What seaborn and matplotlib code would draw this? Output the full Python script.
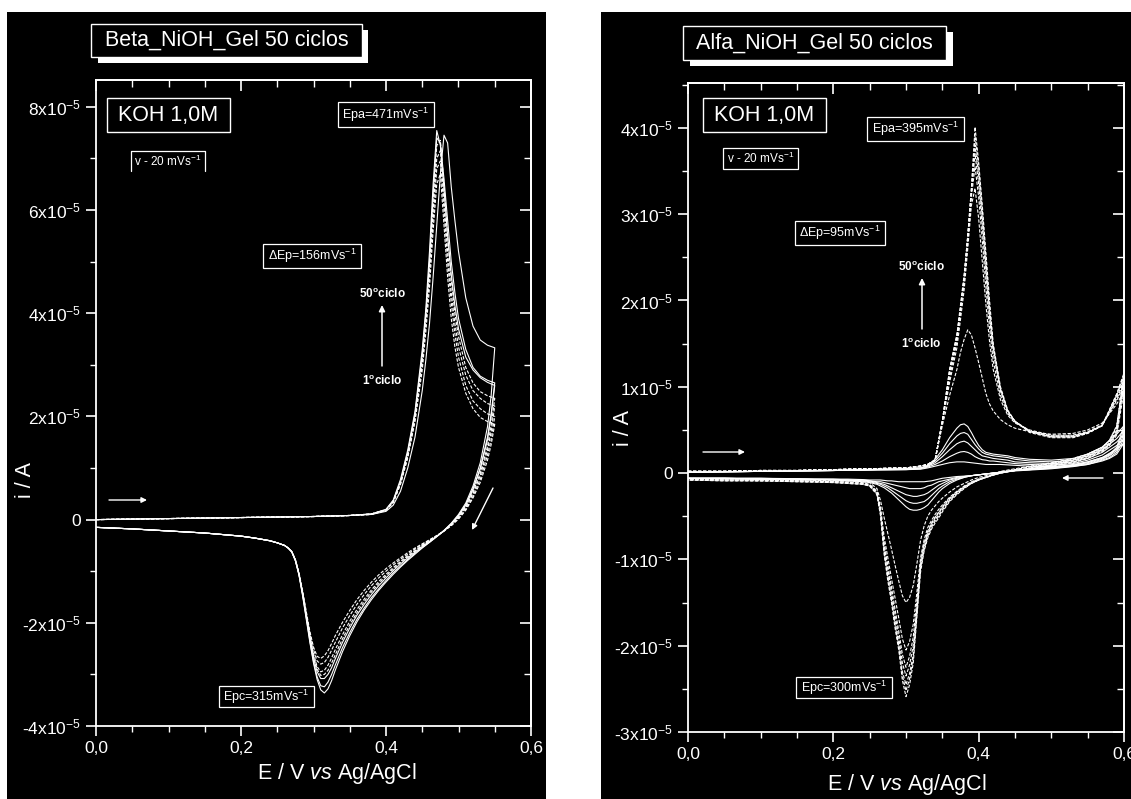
import numpy as np
import pandas as pd
import matplotlib
matplotlib.use("Agg")
import matplotlib.pyplot as plt
import seaborn as sns
from matplotlib.patches import Rectangle, FancyArrowPatch
from matplotlib.lines import Line2D
from matplotlib.ticker import FixedLocator, MultipleLocator, NullFormatter

# ---------------- LEFT PANEL (Beta_NiOH_Gel), current in 1e-5 A ----------------
LB_E_fwd = [0.000, 0.050, 0.100, 0.150, 0.200, 0.250, 0.300, 0.350, 0.380, 0.400,
            0.410, 0.420, 0.430, 0.440, 0.450, 0.455, 0.460, 0.465, 0.470, 0.475,
            0.480, 0.485, 0.490, 0.495, 0.500, 0.510, 0.520, 0.530, 0.540, 0.550]
LB_E_rev = [0.550, 0.545, 0.540, 0.530, 0.520, 0.510, 0.500, 0.490, 0.480, 0.470,
            0.460, 0.450, 0.440, 0.430, 0.420, 0.410, 0.400, 0.390, 0.380, 0.370,
            0.360, 0.350, 0.340, 0.330, 0.325, 0.320, 0.315, 0.310, 0.305, 0.300,
            0.295, 0.290, 0.285, 0.280, 0.275, 0.270, 0.265, 0.260, 0.250, 0.240,
            0.220, 0.200, 0.150, 0.100, 0.050, 0.000]

L1_fwd = [0.00, 0.01, 0.02, 0.03, 0.04, 0.05, 0.06, 0.08, 0.10, 0.16,
          0.28, 0.55, 1.00, 1.60, 2.50, 3.10, 3.80, 4.70, 5.70, 6.70,
          7.45, 7.30, 6.45, 5.80, 5.20, 4.30, 3.75, 3.48, 3.38, 3.33]
L2_fwd = [0.00, 0.01, 0.02, 0.03, 0.04, 0.05, 0.06, 0.08, 0.11, 0.20,
          0.38, 0.78, 1.35, 2.10, 3.30, 4.10, 5.20, 6.50, 7.54, 7.25,
          6.40, 5.50, 4.75, 4.15, 3.70, 3.15, 2.90, 2.75, 2.66, 2.60]
L3_fwd = [0.00, 0.01, 0.02, 0.03, 0.04, 0.05, 0.06, 0.08, 0.11, 0.19,
          0.36, 0.74, 1.30, 2.05, 3.20, 4.00, 5.00, 6.30, 7.40, 7.30,
          6.60, 5.80, 5.00, 4.40, 3.90, 3.30, 2.95, 2.78, 2.70, 2.65]
L4_fwd = [0.00, 0.01, 0.02, 0.03, 0.04, 0.05, 0.06, 0.08, 0.11, 0.19,
          0.35, 0.72, 1.25, 2.00, 3.10, 3.90, 4.85, 6.00, 7.00, 7.15,
          6.20, 5.20, 4.40, 3.80, 3.35, 2.80, 2.50, 2.35, 2.25, 2.20]
L5_fwd = [0.00, 0.01, 0.02, 0.03, 0.04, 0.05, 0.06, 0.08, 0.10, 0.18,
          0.34, 0.70, 1.22, 1.95, 3.00, 3.80, 4.70, 5.80, 6.80, 6.95,
          6.00, 5.00, 4.20, 3.60, 3.15, 2.60, 2.30, 2.15, 2.05, 2.00]
L6_fwd = [0.00, 0.01, 0.02, 0.03, 0.04, 0.05, 0.06, 0.08, 0.10, 0.18,
          0.33, 0.68, 1.20, 1.90, 2.90, 3.65, 4.50, 5.60, 6.50, 6.70,
          5.70, 4.70, 3.90, 3.35, 2.95, 2.45, 2.15, 1.98, 1.90, 1.85]
L7_fwd = [0.00, 0.01, 0.02, 0.03, 0.04, 0.05, 0.06, 0.08, 0.11, 0.19,
          0.36, 0.73, 1.28, 2.02, 3.15, 3.95, 4.95, 6.20, 7.25, 7.35,
          6.50, 5.50, 4.65, 4.00, 3.55, 2.95, 2.65, 2.48, 2.40, 2.35]

L1_rev = [3.33, 2.40, 1.80, 1.10, 0.65, 0.32, 0.10, -0.07, -0.21, -0.33,
          -0.44, -0.55, -0.67, -0.79, -0.92, -1.06, -1.21, -1.37, -1.55, -1.75,
          -1.98, -2.25, -2.56, -2.92, -3.12, -3.28, -3.36, -3.30, -3.10, -2.78,
          -2.38, -1.93, -1.48, -1.08, -0.80, -0.63, -0.55, -0.50, -0.45, -0.41,
          -0.36, -0.32, -0.26, -0.22, -0.18, -0.15]
L2_rev = [2.60, 2.00, 1.55, 0.98, 0.58, 0.28, 0.07, -0.09, -0.22, -0.33,
          -0.44, -0.54, -0.65, -0.77, -0.90, -1.03, -1.18, -1.34, -1.51, -1.71,
          -1.93, -2.19, -2.48, -2.82, -3.00, -3.15, -3.24, -3.22, -3.05, -2.75,
          -2.35, -1.90, -1.46, -1.07, -0.79, -0.62, -0.55, -0.50, -0.45, -0.41,
          -0.36, -0.32, -0.26, -0.22, -0.18, -0.15]
L3_rev = [2.65, 2.05, 1.60, 1.00, 0.60, 0.29, 0.08, -0.08, -0.21, -0.32,
          -0.42, -0.52, -0.63, -0.74, -0.86, -0.99, -1.13, -1.28, -1.45, -1.64,
          -1.85, -2.10, -2.38, -2.70, -2.87, -3.00, -3.08, -3.08, -2.95, -2.68,
          -2.30, -1.87, -1.44, -1.06, -0.79, -0.62, -0.55, -0.50, -0.45, -0.41,
          -0.36, -0.32, -0.26, -0.22, -0.18, -0.15]
L4_rev = [2.20, 1.70, 1.35, 0.85, 0.50, 0.23, 0.04, -0.10, -0.22, -0.32,
          -0.41, -0.50, -0.60, -0.70, -0.81, -0.93, -1.06, -1.20, -1.36, -1.54,
          -1.74, -1.97, -2.23, -2.52, -2.68, -2.82, -2.92, -2.95, -2.85, -2.60,
          -2.25, -1.84, -1.42, -1.05, -0.78, -0.62, -0.55, -0.50, -0.45, -0.41,
          -0.36, -0.32, -0.26, -0.22, -0.18, -0.15]
L5_rev = [2.00, 1.55, 1.25, 0.78, 0.45, 0.20, 0.02, -0.11, -0.22, -0.31,
          -0.40, -0.48, -0.57, -0.67, -0.77, -0.88, -1.00, -1.13, -1.28, -1.45,
          -1.64, -1.86, -2.10, -2.38, -2.53, -2.67, -2.77, -2.80, -2.74, -2.52,
          -2.20, -1.80, -1.40, -1.04, -0.78, -0.62, -0.55, -0.50, -0.45, -0.41,
          -0.36, -0.32, -0.26, -0.22, -0.18, -0.15]
L6_rev = [1.85, 1.45, 1.15, 0.72, 0.42, 0.18, 0.01, -0.12, -0.22, -0.31,
          -0.39, -0.47, -0.55, -0.64, -0.74, -0.84, -0.95, -1.07, -1.21, -1.37,
          -1.55, -1.76, -1.99, -2.25, -2.40, -2.54, -2.64, -2.69, -2.65, -2.47,
          -2.17, -1.78, -1.38, -1.03, -0.77, -0.62, -0.55, -0.50, -0.45, -0.41,
          -0.36, -0.32, -0.26, -0.22, -0.18, -0.15]
L7_rev = [2.35, 1.82, 1.42, 0.90, 0.53, 0.25, 0.05, -0.10, -0.22, -0.32,
          -0.42, -0.51, -0.61, -0.72, -0.83, -0.96, -1.09, -1.24, -1.40, -1.59,
          -1.80, -2.04, -2.31, -2.62, -2.78, -2.92, -3.00, -3.02, -2.90, -2.64,
          -2.28, -1.86, -1.43, -1.05, -0.78, -0.62, -0.55, -0.50, -0.45, -0.41,
          -0.36, -0.32, -0.26, -0.22, -0.18, -0.15]

# ---------------- RIGHT PANEL (Alfa_NiOH_Gel), current in 1e-5 A ----------------
RA_E_fwd = [0.000, 0.050, 0.100, 0.150, 0.200, 0.250, 0.300, 0.320, 0.330, 0.340,
            0.350, 0.360, 0.370, 0.375, 0.380, 0.385, 0.390, 0.395, 0.400, 0.405,
            0.410, 0.415, 0.420, 0.430, 0.440, 0.450, 0.470, 0.500, 0.530, 0.550,
            0.570, 0.590, 0.600]
RA_E_rev = [0.600, 0.590, 0.580, 0.570, 0.550, 0.530, 0.500, 0.470, 0.450, 0.430,
            0.410, 0.400, 0.390, 0.380, 0.370, 0.360, 0.350, 0.345, 0.340, 0.335,
            0.330, 0.325, 0.320, 0.315, 0.310, 0.305, 0.300, 0.295, 0.290, 0.285,
            0.280, 0.275, 0.270, 0.265, 0.260, 0.250, 0.240, 0.220, 0.200, 0.150,
            0.100, 0.050, 0.000]

S1_fwd = [0.01, 0.015, 0.02, 0.025, 0.03, 0.035, 0.04, 0.045, 0.06, 0.08,
          0.10, 0.12, 0.13, 0.13, 0.13, 0.125, 0.12, 0.115, 0.11, 0.105,
          0.10, 0.10, 0.10, 0.10, 0.095, 0.09, 0.08, 0.075, 0.09, 0.13,
          0.18, 0.28, 0.35]
S2_fwd = [0.01, 0.015, 0.02, 0.025, 0.03, 0.035, 0.04, 0.05, 0.07, 0.10,
          0.14, 0.19, 0.23, 0.245, 0.25, 0.24, 0.22, 0.19, 0.17, 0.155,
          0.15, 0.14, 0.14, 0.13, 0.12, 0.11, 0.10, 0.09, 0.11, 0.15,
          0.21, 0.32, 0.40]
S3_fwd = [0.01, 0.015, 0.02, 0.025, 0.03, 0.04, 0.05, 0.06, 0.08, 0.12,
          0.19, 0.27, 0.34, 0.36, 0.37, 0.35, 0.31, 0.27, 0.23, 0.20,
          0.19, 0.18, 0.17, 0.16, 0.15, 0.13, 0.12, 0.11, 0.13, 0.17,
          0.24, 0.36, 0.45]
S4_fwd = [0.01, 0.015, 0.02, 0.025, 0.03, 0.04, 0.05, 0.06, 0.08, 0.14,
          0.23, 0.34, 0.43, 0.46, 0.47, 0.45, 0.39, 0.33, 0.28, 0.24,
          0.22, 0.21, 0.20, 0.19, 0.18, 0.16, 0.14, 0.13, 0.15, 0.20,
          0.27, 0.40, 0.50]
S5_fwd = [0.01, 0.015, 0.02, 0.025, 0.03, 0.04, 0.05, 0.06, 0.09, 0.16,
          0.27, 0.41, 0.52, 0.56, 0.57, 0.54, 0.47, 0.39, 0.32, 0.27,
          0.24, 0.23, 0.22, 0.21, 0.20, 0.18, 0.16, 0.15, 0.17, 0.22,
          0.30, 0.45, 0.55]
D1_fwd = [0.02, 0.02, 0.03, 0.03, 0.04, 0.05, 0.06, 0.08, 0.10, 0.15,
          0.55, 0.90, 1.20, 1.40, 1.55, 1.66, 1.60, 1.45, 1.28, 1.10,
          0.92, 0.80, 0.72, 0.62, 0.56, 0.52, 0.48, 0.45, 0.46, 0.50,
          0.58, 0.80, 0.95]
D2_fwd = [0.02, 0.02, 0.03, 0.03, 0.04, 0.05, 0.06, 0.08, 0.10, 0.15,
          0.58, 1.05, 1.45, 1.78, 2.12, 2.60, 3.10, 3.30, 2.95, 2.45,
          1.95, 1.52, 1.20, 0.85, 0.67, 0.58, 0.50, 0.44, 0.44, 0.48,
          0.56, 0.84, 1.02]
D3_fwd = [0.02, 0.02, 0.03, 0.03, 0.04, 0.05, 0.06, 0.08, 0.10, 0.15,
          0.60, 1.10, 1.52, 1.85, 2.20, 2.68, 3.20, 3.55, 3.20, 2.70,
          2.15, 1.68, 1.30, 0.90, 0.69, 0.59, 0.49, 0.43, 0.43, 0.47,
          0.55, 0.86, 1.05]
D4_fwd = [0.02, 0.02, 0.03, 0.03, 0.04, 0.05, 0.06, 0.08, 0.10, 0.15,
          0.60, 1.15, 1.55, 1.90, 2.25, 2.72, 3.25, 3.70, 3.35, 2.85,
          2.30, 1.80, 1.40, 0.95, 0.71, 0.60, 0.49, 0.43, 0.43, 0.47,
          0.55, 0.88, 1.08]
D5_fwd = [0.02, 0.02, 0.03, 0.03, 0.04, 0.05, 0.06, 0.08, 0.10, 0.15,
          0.60, 1.20, 1.60, 1.95, 2.30, 2.75, 3.25, 3.80, 3.45, 2.95,
          2.40, 1.85, 1.45, 0.97, 0.72, 0.60, 0.48, 0.42, 0.42, 0.47,
          0.55, 0.90, 1.12]
D6_fwd = [0.02, 0.02, 0.03, 0.03, 0.04, 0.05, 0.06, 0.08, 0.10, 0.15,
          0.60, 1.20, 1.60, 1.90, 2.25, 2.75, 3.30, 4.01, 3.60, 3.10,
          2.55, 2.00, 1.50, 1.00, 0.73, 0.60, 0.47, 0.41, 0.41, 0.46,
          0.55, 0.92, 1.16]
D7_fwd = [0.02, 0.02, 0.03, 0.03, 0.04, 0.05, 0.06, 0.08, 0.10, 0.15,
          0.60, 1.18, 1.58, 1.92, 2.28, 2.75, 3.30, 3.90, 3.55, 3.05,
          2.48, 1.93, 1.48, 0.98, 0.72, 0.60, 0.48, 0.42, 0.42, 0.46,
          0.55, 0.91, 1.14]

S1_rev = [0.35, 0.22, 0.17, 0.14, 0.10, 0.075, 0.05, 0.035, 0.025, 0.01,
          -0.01, -0.02, -0.03, -0.035, -0.04, -0.05, -0.06, -0.07, -0.08, -0.09,
          -0.095, -0.10, -0.10, -0.10, -0.10, -0.10, -0.10, -0.10, -0.10, -0.095,
          -0.09, -0.09, -0.085, -0.08, -0.08, -0.08, -0.075, -0.07, -0.07, -0.065,
          -0.06, -0.06, -0.06]
S2_rev = [0.40, 0.24, 0.18, 0.15, 0.10, 0.08, 0.055, 0.04, 0.03, 0.01,
          -0.01, -0.02, -0.03, -0.04, -0.05, -0.07, -0.09, -0.10, -0.12, -0.14,
          -0.15, -0.17, -0.18, -0.18, -0.18, -0.18, -0.17, -0.16, -0.15, -0.14,
          -0.13, -0.12, -0.11, -0.10, -0.10, -0.09, -0.08, -0.08, -0.07, -0.07,
          -0.06, -0.06, -0.06]
S3_rev = [0.45, 0.26, 0.20, 0.16, 0.11, 0.085, 0.06, 0.04, 0.03, 0.01,
          -0.01, -0.02, -0.03, -0.04, -0.06, -0.08, -0.12, -0.14, -0.17, -0.20,
          -0.23, -0.25, -0.26, -0.27, -0.27, -0.26, -0.25, -0.23, -0.21, -0.19,
          -0.17, -0.15, -0.13, -0.12, -0.11, -0.09, -0.09, -0.08, -0.08, -0.07,
          -0.07, -0.06, -0.06]
S4_rev = [0.50, 0.28, 0.21, 0.17, 0.12, 0.09, 0.065, 0.045, 0.03, 0.01,
          -0.01, -0.02, -0.03, -0.05, -0.07, -0.10, -0.15, -0.18, -0.22, -0.26,
          -0.30, -0.33, -0.34, -0.35, -0.35, -0.34, -0.32, -0.29, -0.26, -0.23,
          -0.20, -0.17, -0.15, -0.13, -0.12, -0.10, -0.09, -0.08, -0.08, -0.07,
          -0.07, -0.06, -0.06]
S5_rev = [0.55, 0.30, 0.22, 0.18, 0.13, 0.10, 0.07, 0.05, 0.03, 0.01,
          -0.01, -0.02, -0.03, -0.05, -0.08, -0.12, -0.18, -0.22, -0.27, -0.32,
          -0.37, -0.40, -0.42, -0.43, -0.43, -0.42, -0.39, -0.35, -0.31, -0.27,
          -0.23, -0.20, -0.17, -0.15, -0.13, -0.11, -0.10, -0.09, -0.08, -0.07,
          -0.07, -0.06, -0.06]
D1_rev = [0.95, 0.44, 0.32, 0.25, 0.17, 0.12, 0.08, 0.05, 0.03, 0.00,
          -0.03, -0.05, -0.08, -0.12, -0.16, -0.22, -0.29, -0.33, -0.38, -0.43,
          -0.50, -0.61, -0.78, -1.05, -1.30, -1.44, -1.50, -1.42, -1.25, -1.07,
          -0.88, -0.70, -0.52, -0.32, -0.18, -0.11, -0.10, -0.09, -0.09, -0.08,
          -0.07, -0.07, -0.06]
D2_rev = [1.02, 0.47, 0.33, 0.26, 0.18, 0.13, 0.09, 0.05, 0.03, 0.00,
          -0.04, -0.07, -0.10, -0.15, -0.21, -0.28, -0.37, -0.42, -0.48, -0.55,
          -0.63, -0.77, -0.98, -1.38, -1.75, -1.95, -2.05, -1.92, -1.68, -1.45,
          -1.22, -0.98, -0.74, -0.40, -0.21, -0.13, -0.11, -0.10, -0.10, -0.09,
          -0.08, -0.08, -0.07]
D3_rev = [1.05, 0.48, 0.34, 0.27, 0.19, 0.14, 0.09, 0.05, 0.03, 0.00,
          -0.05, -0.07, -0.11, -0.16, -0.22, -0.29, -0.39, -0.45, -0.51, -0.58,
          -0.67, -0.81, -1.03, -1.48, -1.90, -2.12, -2.25, -2.10, -1.83, -1.58,
          -1.32, -1.07, -0.81, -0.44, -0.22, -0.14, -0.12, -0.11, -0.10, -0.09,
          -0.08, -0.08, -0.07]
D4_rev = [1.08, 0.50, 0.35, 0.28, 0.20, 0.15, 0.10, 0.06, 0.03, 0.00,
          -0.05, -0.08, -0.11, -0.16, -0.22, -0.30, -0.40, -0.46, -0.52, -0.59,
          -0.69, -0.83, -1.05, -1.55, -2.00, -2.22, -2.35, -2.20, -1.90, -1.64,
          -1.37, -1.11, -0.84, -0.45, -0.22, -0.14, -0.12, -0.11, -0.10, -0.09,
          -0.08, -0.08, -0.07]
D5_rev = [1.12, 0.53, 0.37, 0.29, 0.21, 0.16, 0.11, 0.07, 0.04, 0.01,
          -0.05, -0.08, -0.12, -0.17, -0.23, -0.31, -0.42, -0.48, -0.54, -0.61,
          -0.71, -0.86, -1.08, -1.60, -2.10, -2.32, -2.45, -2.30, -1.98, -1.72,
          -1.44, -1.18, -0.90, -0.47, -0.23, -0.14, -0.12, -0.11, -0.10, -0.09,
          -0.09, -0.08, -0.08]
D6_rev = [1.16, 0.55, 0.38, 0.30, 0.22, 0.17, 0.12, 0.08, 0.05, 0.02,
          -0.05, -0.08, -0.12, -0.18, -0.25, -0.33, -0.45, -0.52, -0.58, -0.65,
          -0.75, -0.90, -1.15, -1.67, -2.20, -2.45, -2.59, -2.40, -2.05, -1.80,
          -1.50, -1.25, -0.95, -0.50, -0.25, -0.15, -0.13, -0.12, -0.11, -0.10,
          -0.09, -0.09, -0.08]
D7_rev = [1.14, 0.54, 0.38, 0.30, 0.22, 0.16, 0.11, 0.07, 0.04, 0.01,
          -0.05, -0.08, -0.12, -0.17, -0.24, -0.32, -0.43, -0.50, -0.56, -0.63,
          -0.73, -0.88, -1.10, -1.62, -2.14, -2.38, -2.52, -2.35, -2.01, -1.76,
          -1.47, -1.21, -0.92, -0.48, -0.24, -0.15, -0.13, -0.12, -0.11, -0.10,
          -0.09, -0.09, -0.08]

X_TICKS = [0.0, 0.2, 0.4, 0.6]
X_TICKLABELS = ["0,0", "0,2", "0,4", "0,6"]
LB_Y_TICKS = [-4, -2, 0, 2, 4, 6, 8]
RA_Y_TICKS = [-3, -2, -1, 0, 1, 2, 3, 4]

# ---------------- style ----------------
sns.set_theme(style="ticks")
plt.rcParams["font.family"] = ["Liberation Sans", "DejaVu Sans"]
plt.rcParams["mathtext.fontset"] = "custom"
plt.rcParams["mathtext.rm"] = "Liberation Sans"
plt.rcParams["mathtext.it"] = "Liberation Sans:italic"
plt.rcParams["mathtext.bf"] = "Liberation Sans:bold"
plt.rcParams["axes.unicode_minus"] = False

W, H = 1131, 799
fig = plt.figure(figsize=(W / 100, H / 100), dpi=100, facecolor="white")


def fx(x):
    return x / W


def fy(y):
    return 1 - y / H


def prect(x0, y0, x1, y1, **kw):
    r = Rectangle((fx(x0), fy(y1)), (x1 - x0) / W, (y1 - y0) / H,
                  transform=fig.transFigure, **kw)
    fig.add_artist(r)
    return r


def box(x0, y0, x1, y1, text, size, weight="normal", lw=0.9, sides=4):
    if sides == 4:
        prect(x0, y0, x1, y1, facecolor="black", edgecolor="white", lw=lw, zorder=5)
    else:
        prect(x0, y0, x1, y1, facecolor="black", edgecolor="none", zorder=5)
        fig.add_artist(Line2D([fx(x0), fx(x0), fx(x1), fx(x1)], [fy(y1), fy(y0), fy(y0), fy(y1)],
                              transform=fig.transFigure, color="white", lw=lw, zorder=5))
    fig.text(fx((x0 + x1) / 2), fy((y0 + y1) / 2), text, ha="center", va="center",
             color="white", fontsize=size, fontweight=weight, zorder=6)


def arrow(x0, y0, x1, y1, ms=8, lw=1.0):
    fig.add_artist(FancyArrowPatch((fx(x0), fy(y0)), (fx(x1), fy(y1)), transform=fig.transFigure,
                                   arrowstyle="-|>", mutation_scale=ms, color="white", lw=lw,
                                   shrinkA=0, shrinkB=0, zorder=6))


# black panels
prect(7, 12, 546, 800, facecolor="black", edgecolor="none", zorder=-10)
prect(601, 12, 1132, 800, facecolor="black", edgecolor="none", zorder=-10)

axL = fig.add_axes([fx(96), fy(726), (531 - 96) / W, (726 - 80) / H])
axR = fig.add_axes([fx(688), fy(732), (1124 - 688) / W, (732 - 83) / H])


def sup(v):
    if v == 0:
        return "0"
    return r"%dx10$^{\mathregular{-5}}$" % v


def draw_panel(ax, E_fwd, E_rev, cycles, ylim, yticks, yminor):
    frames = []
    for name, fwd, rev, kind in cycles:
        frames.append(pd.DataFrame({"E": list(E_fwd) + list(E_rev),
                                    "i": list(fwd) + list(rev),
                                    "cycle": name, "kind": kind}))
    df = pd.concat(frames, ignore_index=True)
    sns.lineplot(data=df, x="E", y="i", units="cycle", estimator=None, sort=False,
                 style="kind", dashes={"solid": "", "dash": (3.0, 1.5)},
                 color="white", linewidth=0.8, legend=False, ax=ax)
    ax.set_facecolor("black")
    ax.set_xlim(0, 0.6)
    ax.set_ylim(*ylim)
    ax.xaxis.set_major_locator(FixedLocator(X_TICKS))
    ax.xaxis.set_minor_locator(MultipleLocator(0.05))
    ax.set_xticklabels(X_TICKLABELS)
    ax.yaxis.set_major_locator(FixedLocator(yticks))
    ax.yaxis.set_minor_locator(MultipleLocator(yminor))
    ax.set_yticklabels([sup(v) for v in yticks])
    ax.tick_params(which="both", direction="out", colors="white", labelcolor="white",
                   top=False, right=False)
    ax.tick_params(which="major", length=7, width=1.2, labelsize=12.5, pad=4)
    ax.tick_params(which="minor", length=4, width=1.0)
    for s in ax.spines.values():
        s.set_color("white")
        s.set_linewidth(1.3)
    secx = ax.secondary_xaxis("top")
    secx.xaxis.set_major_locator(FixedLocator(X_TICKS))
    secx.xaxis.set_minor_locator(MultipleLocator(0.05))
    secx.xaxis.set_major_formatter(NullFormatter())
    secx.tick_params(which="both", direction="in", colors="white")
    secx.tick_params(which="major", length=8, width=1.2)
    secx.tick_params(which="minor", length=5, width=1.0)
    secx.spines["top"].set_color("white")
    secx.spines["top"].set_linewidth(1.3)
    secy = ax.secondary_yaxis("right")
    secy.yaxis.set_major_locator(FixedLocator(yticks))
    secy.yaxis.set_minor_locator(MultipleLocator(yminor))
    secy.yaxis.set_major_formatter(NullFormatter())
    secy.tick_params(which="both", direction="in", colors="white")
    secy.tick_params(which="major", length=8, width=1.2)
    secy.tick_params(which="minor", length=5, width=1.0)
    secy.spines["right"].set_color("white")
    secy.spines["right"].set_linewidth(1.3)
    ax.set_xlabel(r"E / V $\mathit{vs}$ Ag/AgCl", color="white", fontsize=15.5)
    ax.set_ylabel("i / A", color="white", fontsize=15.5)


left_cycles = [("L1", L1_fwd, L1_rev, "solid"), ("L2", L2_fwd, L2_rev, "solid"),
               ("L3", L3_fwd, L3_rev, "solid"), ("L7", L7_fwd, L7_rev, "dash"),
               ("L4", L4_fwd, L4_rev, "dash"), ("L5", L5_fwd, L5_rev, "dash"),
               ("L6", L6_fwd, L6_rev, "dash")]
right_cycles = [("S1", S1_fwd, S1_rev, "solid"), ("S2", S2_fwd, S2_rev, "solid"),
                ("S3", S3_fwd, S3_rev, "solid"), ("S4", S4_fwd, S4_rev, "solid"),
                ("S5", S5_fwd, S5_rev, "solid"), ("D1", D1_fwd, D1_rev, "dash"),
                ("D2", D2_fwd, D2_rev, "dash"), ("D3", D3_fwd, D3_rev, "dash"),
                ("D4", D4_fwd, D4_rev, "dash"), ("D5", D5_fwd, D5_rev, "dash"),
                ("D7", D7_fwd, D7_rev, "dash"), ("D6", D6_fwd, D6_rev, "dash")]

draw_panel(axL, LB_E_fwd, LB_E_rev, left_cycles, (-4, 8.52), LB_Y_TICKS, 1)
draw_panel(axR, RA_E_fwd, RA_E_rev, right_cycles, (-3, 4.52), RA_Y_TICKS, 0.5)

axL.xaxis.set_label_coords((337 - 96) / 435, (726 - 761) / 646)
axL.yaxis.set_label_coords((36 - 96) / 435, (726 - 480) / 646)
axR.xaxis.set_label_coords((907 - 688) / 436, (732 - 772) / 649)
axR.yaxis.set_label_coords((634 - 688) / 436, (732 - 428) / 649)

# ---------------- annotations: left ----------------
prect(98, 30, 368, 63, facecolor="white", edgecolor="none", zorder=4)
box(91, 24, 362, 57, "Beta_NiOH_Gel 50 ciclos", 15.5, lw=1.0)
box(107, 98, 230, 132, "KOH 1,0M", 15.5, lw=1.0)
box(131, 151, 205, 171, r"v - 20 mVs$^{\mathregular{-1}}$", 8.5, sides=3)
box(338, 102, 434, 127, r"Epa=471mVs$^{\mathregular{-1}}$", 9)
box(263, 244, 361, 268, r"$\mathregular{\Delta}$Ep=156mVs$^{\mathregular{-1}}$", 9)
box(219, 686, 314, 707, r"Epc=315mVs$^{\mathregular{-1}}$", 9)
fig.text(fx(382), fy(294), r"50$^{\mathregular{o}}$ciclo", ha="center", va="center",
         color="white", fontsize=8.5, fontweight="bold", zorder=6)
fig.text(fx(382), fy(381), r"1$^{\mathregular{o}}$ciclo", ha="center", va="center",
         color="white", fontsize=8.5, fontweight="bold", zorder=6)
arrow(382, 366, 382, 305, ms=9, lw=1.1)
arrow(109, 500, 147, 500, ms=8)
arrow(493, 488, 472, 530, ms=8)

# ---------------- annotations: right ----------------
prect(690, 32, 953, 66, facecolor="white", edgecolor="none", zorder=4)
box(683, 26, 946, 60, "Alfa_NiOH_Gel 50 ciclos", 15.5, lw=1.0)
box(703, 98, 826, 132, "KOH 1,0M", 15.5, lw=1.0)
box(723, 148, 798, 169, r"v - 20 mVs$^{\mathregular{-1}}$", 8.5)
box(867, 117, 964, 141, r"Epa=395mVs$^{\mathregular{-1}}$", 9)
box(795, 221, 885, 245, r"$\mathregular{\Delta}$Ep=95mVs$^{\mathregular{-1}}$", 9)
box(796, 677, 892, 698, r"Epc=300mVs$^{\mathregular{-1}}$", 9)
fig.text(fx(921), fy(267), r"50$^{\mathregular{o}}$ciclo", ha="center", va="center",
         color="white", fontsize=8.5, fontweight="bold", zorder=6)
fig.text(fx(921), fy(344), r"1$^{\mathregular{o}}$ciclo", ha="center", va="center",
         color="white", fontsize=8.5, fontweight="bold", zorder=6)
arrow(922, 329, 922, 278, ms=9, lw=1.1)
arrow(703, 452, 745, 452, ms=8)
arrow(1103, 478, 1062, 478, ms=8)

fig.savefig("out.png", dpi=100, facecolor="white")
